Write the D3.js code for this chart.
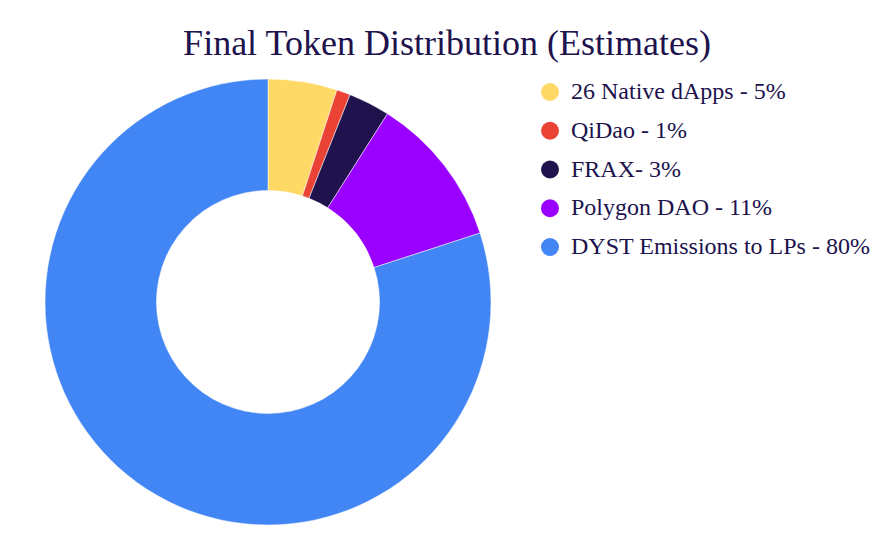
<!DOCTYPE html>
<html lang="en">
<head>
    <meta charset="UTF-8"/>
    <title>Final Token Distribution (Estimates)</title>
    <script src="https://d3js.org/d3.v7.min.js"></script>
    <style>
        body { margin: 0; background: #fff; }
        text { font-family: "Liberation Serif", "Times New Roman", serif; fill: #20124d; }
    </style>
</head>
<body>
    <script>
        // Chart values
        var labels = ["26 Native dApps - 5%", "QiDao - 1%", "FRAX- 3%", "Polygon DAO - 11%", "DYST Emissions to LPs - 80%"];
        var values = [5, 1, 3, 11, 80];
        var colors = ["#ffd966", "#ea4335", "#20124d", "#9900ff", "#4285f4"];

        var w = 896;
        var h = 550;
        var cx = 268, cy = 302;
        var outerR = 223, innerR = 111.5;

        var svg = d3.select("body")
                    .append("svg")
                    .attr("width", w)
                    .attr("height", h);

        // Title
        svg.append("text")
           .attr("x", 447)
           .attr("y", 55)
           .attr("text-anchor", "middle")
           .attr("font-size", "36px")
           .text("Final Token Distribution (Estimates)");

        var color = d3.scaleOrdinal().domain(labels).range(colors);

        var pie = d3.pie()
                    .sort(null)
                    .value(function(d, i) { return values[i]; });

        var arc = d3.arc()
                    .innerRadius(innerR)
                    .outerRadius(outerR);

        var g = svg.append("g")
                   .attr("transform", "translate(" + cx + "," + cy + ")");

        g.selectAll("path")
         .data(pie(labels))
         .enter()
         .append("path")
         .attr("d", arc)
         .attr("fill", function(d) { return color(d.data); })
         .attr("stroke", "#fff")
         .attr("stroke-width", 0.5);

        // Legend
        var legendY = d3.scalePoint()
                        .domain(labels)
                        .range([92, 247]);

        var legend = svg.selectAll("g.legend")
                        .data(labels)
                        .enter()
                        .append("g")
                        .attr("class", "legend")
                        .attr("transform", function(d) { return "translate(550," + legendY(d) + ")"; });

        legend.append("circle")
              .attr("r", 9)
              .attr("fill", function(d) { return color(d); });

        legend.append("text")
              .attr("x", 21)
              .attr("dy", "0.3em")
              .attr("font-size", "24px")
              .text(function(d) { return d; });
    </script>
</body>
</html>
